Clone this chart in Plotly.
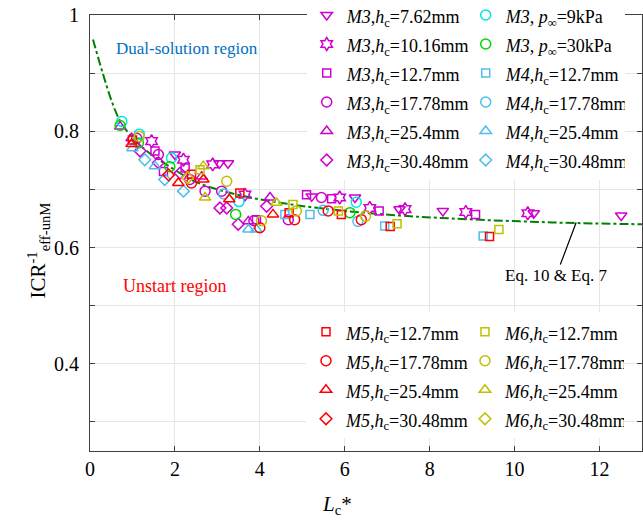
import plotly.graph_objects as go

FONT = "Liberation Serif, Times New Roman, serif"

# ---- model curve (Eq. 10 & Eq. 7) ----
curve_x = [0.07, 0.3, 0.53, 0.75, 1.0, 1.18, 1.5, 1.88, 2.35, 2.59, 3.14, 3.92, 4.94, 6.0, 7.29, 8.5, 10.12, 11.5, 13.0]
curve_y = [0.958, 0.900, 0.848, 0.812, 0.790, 0.776, 0.757, 0.739, 0.718, 0.710, 0.697, 0.684, 0.672, 0.663, 0.655, 0.650, 0.645, 0.642, 0.640]

# ---- data series ----
m3_762_x = [2.00, 3.05, 3.25, 5.22, 6.24, 7.29, 8.31, 10.45, 12.51]
m3_762_y = [0.760, 0.745, 0.745, 0.688, 0.686, 0.666, 0.663, 0.659, 0.655]
m3_1016_x = [1.45, 2.20, 2.89, 3.65, 5.88, 6.59, 7.42, 8.85, 10.31]
m3_1016_y = [0.783, 0.751, 0.743, 0.691, 0.686, 0.668, 0.666, 0.661, 0.659]
m3_127_x = [1.53, 1.73, 2.24, 3.92, 5.10, 5.69, 6.81, 9.08]
m3_127_y = [0.766, 0.731, 0.737, 0.648, 0.691, 0.684, 0.663, 0.657]
m3_1778_x = [1.10, 1.61, 2.35, 2.71, 3.10, 3.86, 4.67, 5.45]
m3_1778_y = [0.788, 0.760, 0.717, 0.697, 0.697, 0.646, 0.648, 0.686]
m3_254_x = [0.71, 0.98, 2.63, 3.73, 4.24]
m3_254_y = [0.808, 0.788, 0.722, 0.645, 0.686]
m3_3048_x = [1.18, 1.61, 2.12, 3.06, 3.22, 3.49, 4.16]
m3_3048_y = [0.766, 0.746, 0.728, 0.668, 0.668, 0.640, 0.671]
m3_p9_x = [0.75, 1.16, 1.92, 3.51, 6.27]
m3_p9_y = [0.817, 0.795, 0.754, 0.679, 0.678]
m3_p30_x = [0.71, 1.14, 1.88, 3.43, 6.12]
m3_p30_y = [0.810, 0.780, 0.739, 0.657, 0.660]
m4_127_x = [4.59, 5.18, 6.94, 9.26]
m4_127_y = [0.657, 0.657, 0.637, 0.620]
m4_1778_x = [3.15, 5.49, 6.31]
m4_1778_y = [0.692, 0.664, 0.645]
m4_254_x = [1.00, 1.53, 3.73, 3.92]
m4_254_y = [0.771, 0.740, 0.631, 0.631]
m4_3048_x = [1.29, 1.76, 2.20]
m4_3048_y = [0.751, 0.717, 0.697]
m5_127_x = [1.00, 2.39, 3.53, 4.69, 5.92, 7.07, 9.41]
m5_127_y = [0.785, 0.726, 0.694, 0.660, 0.657, 0.636, 0.619]
m5_1778_x = [2.39, 4.00, 4.82, 5.61, 6.39]
m5_1778_y = [0.711, 0.634, 0.648, 0.663, 0.648]
m5_254_x = [0.98, 2.08, 2.67, 3.28, 4.31]
m5_254_y = [0.778, 0.711, 0.717, 0.683, 0.657]
m5_3048_x = [1.85]
m5_3048_y = [0.725]
m6_127_x = [2.59, 4.78, 5.85, 7.23, 9.63]
m6_127_y = [0.734, 0.674, 0.663, 0.641, 0.631]
m6_1778_x = [1.16, 3.22, 4.04, 4.86, 6.49]
m6_1778_y = [0.791, 0.714, 0.646, 0.663, 0.654]
m6_254_x = [2.67, 2.71, 4.39]
m6_254_y = [0.740, 0.686, 0.677]
m6_3048_x = [2.30]
m6_3048_y = [0.720]

x_ticks = [0, 2, 4, 6, 8, 10, 12]
y_ticks = [0.3, 0.4, 0.5, 0.6, 0.7, 0.8, 0.9, 1.0]
y_ticktext = ["", "0.4", "", "0.6", "", "0.8", "", "1"]

MAG = "#D000D0"
CYA = "#00E5E5"
GRN = "#00D800"
LBL = "#4DBEEE"
RED = "#FF0000"
OLV = "#BFBF00"


def lab(s):
    return '<span style="font-size:18px">' + s + '</span>'


def hc(m, v):
    return lab("<i>M%s</i>,<i>h</i><sub>c</sub>=%smm" % (m, v))


def pinf(v):
    return lab("<i>M3</i>, <i>p</i><sub>∞</sub>=%skPa" % v)


# (x, y, name, symbol, color, legend, group) ; grouped legend gives the two columns
specs = [
    (m3_762_x, m3_762_y, hc("3", "7.62"), "triangle-down-open", MAG, "legend", "a"),
    (m3_1016_x, m3_1016_y, hc("3", "10.16"), "hexagram-open", MAG, "legend", "a"),
    (m3_127_x, m3_127_y, hc("3", "12.7"), "square-open", MAG, "legend", "a"),
    (m3_1778_x, m3_1778_y, hc("3", "17.78"), "circle-open", MAG, "legend", "a"),
    (m3_254_x, m3_254_y, hc("3", "25.4"), "triangle-up-open", MAG, "legend", "a"),
    (m3_3048_x, m3_3048_y, hc("3", "30.48"), "diamond-open", MAG, "legend", "a"),
    (m3_p9_x, m3_p9_y, pinf("9"), "circle-open", CYA, "legend", "b"),
    (m3_p30_x, m3_p30_y, pinf("30"), "circle-open", GRN, "legend", "b"),
    (m4_127_x, m4_127_y, hc("4", "12.7"), "square-open", LBL, "legend", "b"),
    (m4_1778_x, m4_1778_y, hc("4", "17.78"), "circle-open", LBL, "legend", "b"),
    (m4_254_x, m4_254_y, hc("4", "25.4"), "triangle-up-open", LBL, "legend", "b"),
    (m4_3048_x, m4_3048_y, hc("4", "30.48"), "diamond-open", LBL, "legend", "b"),
    (m5_127_x, m5_127_y, hc("5", "12.7"), "square-open", RED, "legend2", "c"),
    (m5_1778_x, m5_1778_y, hc("5", "17.78"), "circle-open", RED, "legend2", "c"),
    (m5_254_x, m5_254_y, hc("5", "25.4"), "triangle-up-open", RED, "legend2", "c"),
    (m5_3048_x, m5_3048_y, hc("5", "30.48"), "diamond-open", RED, "legend2", "c"),
    (m6_127_x, m6_127_y, hc("6", "12.7"), "square-open", OLV, "legend2", "d"),
    (m6_1778_x, m6_1778_y, hc("6", "17.78"), "circle-open", OLV, "legend2", "d"),
    (m6_254_x, m6_254_y, hc("6", "25.4"), "triangle-up-open", OLV, "legend2", "d"),
    (m6_3048_x, m6_3048_y, hc("6", "30.48"), "diamond-open", OLV, "legend2", "d"),
]

SIZES = {"square-open": 8, "circle-open": 10, "triangle-up-open": 10, "triangle-down-open": 10,
         "diamond-open": 9, "hexagram-open": 10}

fig = go.Figure()

fig.add_trace(go.Scatter(x=curve_x, y=curve_y, mode="lines",
                         line=dict(color="#008000", width=2, dash="dashdot", shape="spline"),
                         showlegend=False, hoverinfo="skip"))

for x, y, name, sym, col, lg, grp in specs:
    fig.add_trace(go.Scatter(
        x=x, y=y, mode="markers", name=name, legend=lg, legendgroup=grp,
        marker=dict(symbol=sym, size=SIZES[sym], color=col, line=dict(color=col, width=1.5)),
    ))

fig.update_layout(
    width=643, height=523,
    margin=dict(l=90, r=1, t=15, b=72, autoexpand=False),
    paper_bgcolor="white", plot_bgcolor="white",
    font=dict(family=FONT, size=20, color="black"),
    legend=dict(orientation="h", traceorder="grouped", tracegroupgap=0,
                entrywidth=114, entrywidthmode="pixels",
                x=0.3926, xanchor="left", y=1.0447, yanchor="top",
                bgcolor="white", borderwidth=0, font=dict(family=FONT, size=20)),
    legend2=dict(orientation="h", traceorder="grouped", tracegroupgap=0,
                 entrywidth=114, entrywidthmode="pixels",
                 x=0.3913, xanchor="left", y=0.3183, yanchor="top",
                 bgcolor="white", borderwidth=0, font=dict(family=FONT, size=20)),
    xaxis=dict(range=[0, 13], tickvals=x_ticks, showgrid=True, gridcolor="#E6E6E6", gridwidth=1,
               zeroline=False, showline=True, linecolor="#404040", linewidth=1, mirror="ticks",
               ticks="inside", ticklen=5, tickcolor="#404040", tickfont=dict(size=20)),
    yaxis=dict(range=[0.25, 1.0], tickvals=y_ticks, ticktext=y_ticktext, showgrid=True, gridcolor="#E6E6E6",
               gridwidth=1, zeroline=False, showline=True, linecolor="#404040", linewidth=1, mirror="ticks",
               ticks="inside", ticklen=5, tickcolor="#404040", tickfont=dict(size=20), ticklabelstandoff=6),
    annotations=[
        dict(text="Dual-solution region", x=2.28, y=0.943, xref="x", yref="y", showarrow=False,
             xanchor="center", yanchor="middle",
             font=dict(family=FONT, size=17, color="#0070C0")),
        dict(text="Unstart region", x=1.98, y=0.533, xref="x", yref="y", showarrow=False,
             xanchor="center", yanchor="middle",
             font=dict(family=FONT, size=18, color="#FF0000")),
        dict(text="Eq. 10 &amp; Eq. 7", x=11.45, y=0.643, xref="x", yref="y", showarrow=True,
             arrowhead=0, arrowwidth=1.2, arrowcolor="black", ax=-20, ay=53,
             font=dict(family=FONT, size=17, color="black")),
        dict(text="<i>L</i><sub>c</sub>*", x=5.81, y=-0.124, xref="x", yref="paper", showarrow=False,
             xanchor="center", yanchor="middle", font=dict(family=FONT, size=21)),
        dict(text="ICR<sup>-1</sup><sub>eff-unM</sub>", x=-0.094, y=0.46, xref="paper", yref="paper",
             xanchor="center", yanchor="middle",
             showarrow=False, textangle=-90, font=dict(family=FONT, size=21)),
    ],
)

fig.write_html("out.html")
